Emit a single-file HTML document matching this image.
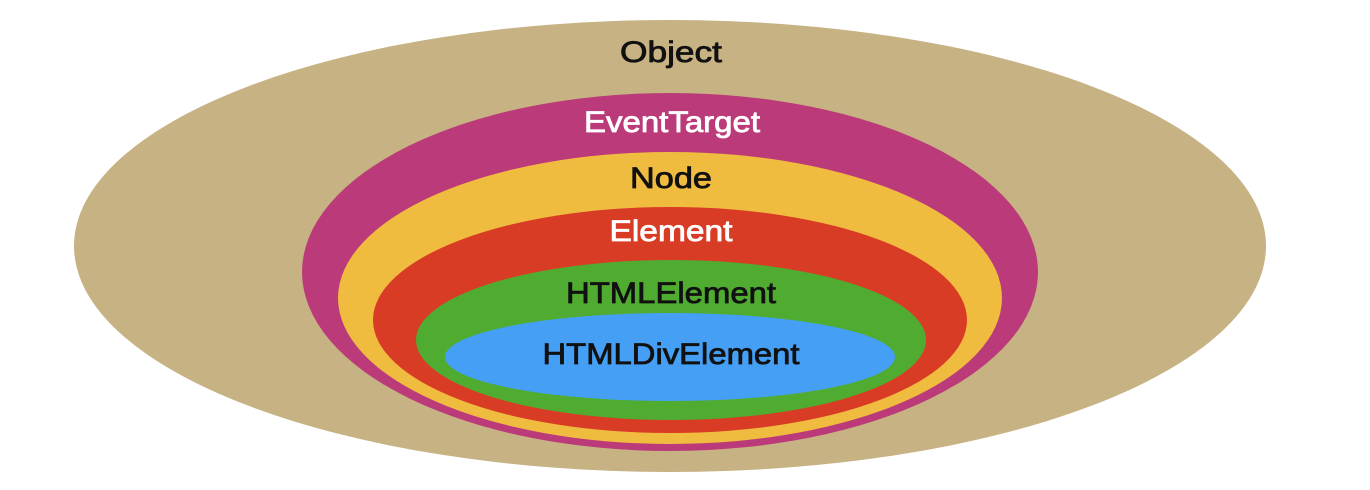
<!DOCTYPE html>
<html><head><meta charset="utf-8"><style>html,body{margin:0;padding:0;background:#fff}svg{display:block}
text{font-family:"Liberation Sans","DejaVu Sans",sans-serif;font-size:30px;text-anchor:middle;dominant-baseline:middle;stroke-width:0.8px}</style></head>
<body>
<svg width="1370" height="490" viewBox="0 0 1370 490" xmlns="http://www.w3.org/2000/svg">
<rect width="1370" height="490" fill="#fff"/>
<ellipse cx="670" cy="246" rx="596" ry="226" fill="#c7b283"/>
<ellipse cx="670" cy="272" rx="368" ry="179" fill="#bb3a7a"/>
<ellipse cx="670" cy="298" rx="332" ry="146" fill="#f0bc40"/>
<ellipse cx="670" cy="320" rx="297" ry="113" fill="#d93c25"/>
<ellipse cx="671" cy="340" rx="255" ry="80" fill="#4fac31"/>
<ellipse cx="670" cy="357" rx="225" ry="44" fill="#459ff5"/>
<text x="671" y="54" fill="#111" stroke="#111" textLength="102" lengthAdjust="spacingAndGlyphs">Object</text>
<text x="672" y="124" fill="#fff" stroke="#fff" textLength="176" lengthAdjust="spacingAndGlyphs">EventTarget</text>
<text x="671" y="180" fill="#111" stroke="#111" textLength="82" lengthAdjust="spacingAndGlyphs">Node</text>
<text x="671" y="233" fill="#fff" stroke="#fff" textLength="123" lengthAdjust="spacingAndGlyphs">Element</text>
<text x="671" y="295" fill="#111" stroke="#111" textLength="210" lengthAdjust="spacingAndGlyphs">HTMLElement</text>
<text x="671" y="356" fill="#111" stroke="#111" textLength="257" lengthAdjust="spacingAndGlyphs">HTMLDivElement</text>
</svg>
</body></html>
